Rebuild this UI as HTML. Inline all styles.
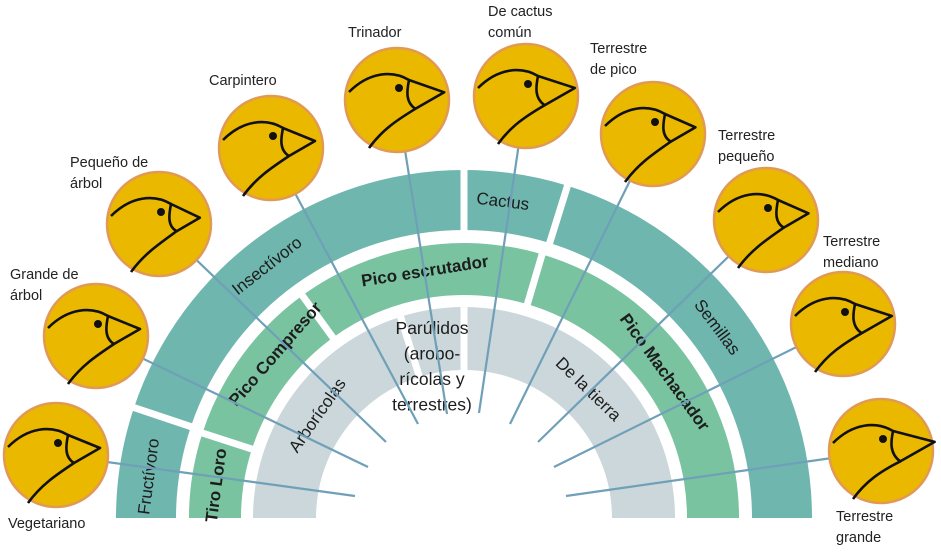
<!DOCTYPE html>
<html><head><meta charset="utf-8">
<style>
html,body{margin:0;padding:0;background:#fff;}
svg{display:block;}
text{font-family:"Liberation Sans",sans-serif;}
</style></head>
<body>
<svg id="chart" width="941" height="552" viewBox="0 0 941 552" xmlns="http://www.w3.org/2000/svg"></svg>
<script>
// ---- data ----
const ringNames = ["outer-diet","middle-beak","inner-habitat"];
const ringInner = [288, 223, 148];
const ringOuter = [348, 275, 211];
const ringColors = ["#6eb6ae","#79c3a0","#cbd7db"];
const segLabels = ["Fructívoro","Insectívoro","Cactus","Semillas","Tiro Loro","Pico Compresor","Pico escrutador","Pico Machacador","Arborícolas","Parúlidos","De la tierra"];
const segRing   = [0,0,0,0,1,1,1,1,2,2,2];
const segStart  = [0,18.5,90,107.3,0,18,54,106.5,0,72.5,90];
const segEnd    = [18.5,90,107.3,180,18,54,106.5,180,72.5,90,180];
const segLabelAngle = [7.5,52,97,143,7.5,41,81,144,35,0,134];
const segLabelR = [318,320,319,317,250,250,250,248,179,0,179];
const segBold = [false,false,false,false,true,true,true,true,false,false,false];

const birdNames = ["Vegetariano","Grande de|árbol","Pequeño de|árbol","Carpintero","Trinador","De cactus|común","Terrestre|de pico","Terrestre|pequeño","Terrestre|mediano","Terrestre|grande"];
const birdCx = [56,96,159,271,397,526,653,766,843,881];
const birdCy = [455,336,224,148,100,96,134,220,324,451];
const lineEndX = [355,368,386,418,447,479,510,538,554,566];
const lineEndY = [496,467,442,424,414,413,424,442,467,496];
const labelX = [8,10,70,209,348,488,590,718,823,836];
const labelY = [528,279,167,85,37,16,53,140,246,521];
const beakSize = [1.0,1.0,0.9,1.0,1.1,1.15,0.95,0.95,1.15,1.3];

const CX = 464, CY = 518;
const NS = "http://www.w3.org/2000/svg";
const svg = document.getElementById('chart');
function el(tag, attrs, parent){ const e=document.createElementNS(NS,tag); for(const k in attrs) e.setAttribute(k,attrs[k]); (parent||svg).appendChild(e); return e; }
function pt(theta, r){ const a=theta*Math.PI/180; return [CX - r*Math.cos(a), CY - r*Math.sin(a)]; }
function sector(t0,t1,r0,r1){
  const p1=pt(t0,r1), p2=pt(t1,r1), p3=pt(t1,r0), p4=pt(t0,r0);
  const large = (t1-t0)>180?1:0;
  return `M${p1[0]},${p1[1]} A${r1},${r1} 0 ${large} 1 ${p2[0]},${p2[1]} L${p3[0]},${p3[1]} A${r0},${r0} 0 ${large} 0 ${p4[0]},${p4[1]} Z`;
}

const gRings = el('g',{});


for(let i=0;i<segLabels.length;i++){
  const r=segRing[i];
  const p = el('path',{d:sector(segStart[i],segEnd[i],ringInner[r],ringOuter[r]),fill:ringColors[r]},gRings);
  
  
}
for(let i=0;i<segLabels.length;i++){
  if(segStart[i]===0) continue;
  const r=segRing[i];
  const a=pt(segStart[i],ringInner[r]-2), b=pt(segStart[i],ringOuter[r]+2);
  const g=el('line',{x1:a[0],y1:a[1],x2:b[0],y2:b[1],stroke:'#fff','stroke-width':7},gRings);
  
  
}

for(let i=0;i<segLabels.length;i++){
  if(segLabels[i]==="Parúlidos") continue;
  const [x,y]=pt(segLabelAngle[i],segLabelR[i]);
  const rot=segLabelAngle[i]-90;
  const t=el('text',{x:x,y:y,'font-size':17,'text-anchor':'middle','dominant-baseline':'central',fill:'#1d1d1d','font-weight':segBold[i]?'bold':'normal',transform:`rotate(${rot} ${x} ${y})`});
  t.textContent=segLabels[i];
  
  
}
const parLines=["Parúlidos","(arobo-","rícolas y","terrestres)"];
const parT = el('text',{x:432,y:0,'font-size':17.5,'text-anchor':'middle',fill:'#1d1d1d'});


parLines.forEach((s,k)=>{ const ts=el('tspan',{x:432,y:334+k*25.5},parT); ts.textContent=s; });

for(let i=0;i<birdNames.length;i++){
  const l=el('line',{x1:birdCx[i],y1:birdCy[i],x2:lineEndX[i],y2:lineEndY[i],stroke:'#6fa0b8','stroke-width':2.2});
  
  
}

for(let i=0;i<birdNames.length;i++){
  const g=el('g',{transform:`translate(${birdCx[i]},${birdCy[i]})`});
  
  
  el('circle',{cx:0,cy:0,r:52,fill:'#ebb800',stroke:'#e09a55','stroke-width':2.5},g);
  const b=beakSize[i];
  el('path',{d:`M-48,-8 C-28,-28 -5,-30 12,-20`,fill:'none',stroke:'#111','stroke-width':2.6},g);
  el('path',{d:`M12,-20 L${12+32*b},${-7*b} L${14+4*b},${8*b} C${8},${2} ${10},${-10} 12,-20 Z`,fill:'none',stroke:'#111','stroke-width':2.6,'stroke-linejoin':'round'},g);
  el('path',{d:`M${14+4*b},${8*b} C0,20 -15,30 -28,48`,fill:'none',stroke:'#111','stroke-width':2.6},g);
  el('circle',{cx:2,cy:-12,r:4,fill:'#111'},g);
  const parts=birdNames[i].split('|');
  const t=el('text',{x:labelX[i],y:labelY[i],'font-size':14.5,fill:'#222'});
  
  
  parts.forEach((s,k)=>{ const ts=el('tspan',{x:labelX[i],y:labelY[i]+k*21},t); ts.textContent=s; });
}
</script>
</body></html>
